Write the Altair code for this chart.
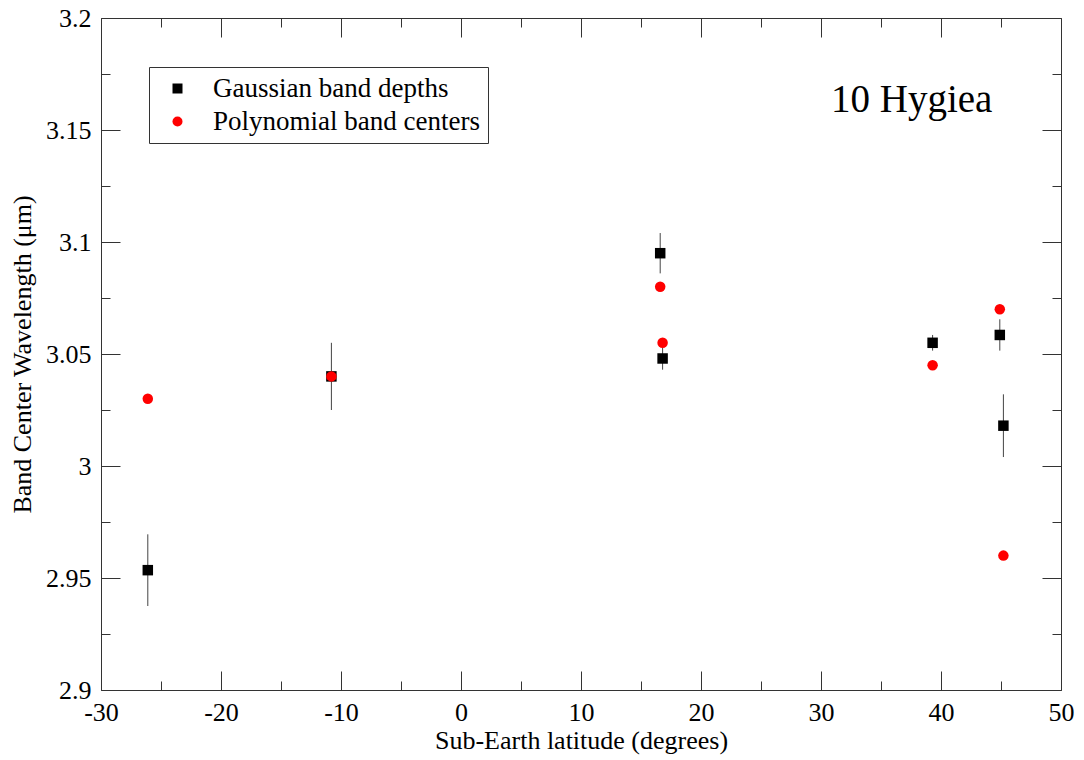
import altair as alt
import pandas as pd

# ---- data ----
SERIES = ["Gaussian band depths", "Polynomial band centers"]

gauss_lat = [-26.1, -10.8, 16.6, 16.8, 39.3, 44.9, 45.2]
gauss_center = [2.9535, 3.040, 3.095, 3.048, 3.055, 3.0585, 3.018]
gauss_err = [0.016, 0.015, 0.009, 0.005, 0.0035, 0.007, 0.014]

poly_lat = [-26.1, -10.8, 16.6, 16.8, 39.3, 44.9, 45.2]
poly_center = [3.030, 3.040, 3.080, 3.055, 3.045, 3.070, 2.960]

X_MAJOR = [-30, -20, -10, 0, 10, 20, 30, 40, 50]
X_MINOR = [-25, -15, -5, 5, 15, 25, 35, 45]
Y_MAJOR = [2.9, 2.95, 3.0, 3.05, 3.1, 3.15, 3.2]
Y_MINOR = [2.925, 2.975, 3.025, 3.075, 3.125, 3.175]

TITLE_TEXT = "10 Hygiea"
X_TITLE = "Sub-Earth latitude (degrees)"
Y_TITLE = "Band Center Wavelength (\u03bcm)"

# ---- tables ----
points = pd.DataFrame({
    "lat": gauss_lat + poly_lat,
    "center": gauss_center + poly_center,
    "series": [SERIES[0]] * len(gauss_lat) + [SERIES[1]] * len(poly_lat),
})
errs = pd.DataFrame({
    "lat": gauss_lat,
    "lo": [c - e for c, e in zip(gauss_center, gauss_err)],
    "hi": [c + e for c, e in zip(gauss_center, gauss_err)],
})

W, H = 960, 672
FONT = "Liberation Serif"
LFONT = "Times New Roman"
AX = "#333333"

xs = alt.Scale(domain=[-30, 50], nice=False, zero=False)
ys = alt.Scale(domain=[2.9, 3.2], nice=False, zero=False)

tick_common = dict(domain=False, grid=False, labels=False, title=None,
                   tickColor=AX, tickWidth=1)

def xtick_axis(orient, values, size):
    return alt.Axis(orient=orient, offset=-H, values=values, tickSize=size, **tick_common)

def ytick_axis(orient, values, size):
    return alt.Axis(orient=orient, offset=-W, values=values, tickSize=size, **tick_common)

x_label_axis = alt.Axis(
    orient="bottom", values=X_MAJOR, ticks=False, tickSize=0, domain=False, grid=False,
    labelExpr="datum.value + ''", labelFont=LFONT, labelFontSize=26, labelColor="black",
    labelPadding=9, labelFlush=False, labelOverlap=False,
    title=X_TITLE, titleFont=FONT, titleFontSize=26,
    titleFontWeight="normal", titleColor="black", titlePadding=2,
)
y_label_axis = alt.Axis(
    orient="left", values=Y_MAJOR, ticks=False, tickSize=0, domain=False, grid=False,
    labelExpr="datum.value + ''", labelFont=LFONT, labelFontSize=26, labelColor="black",
    labelPadding=10, labelFlush=False, labelOverlap=False,
    title=Y_TITLE, titleFont=FONT, titleFontSize=26,
    titleFontWeight="normal", titleColor="black", titlePadding=10,
)

legend = alt.Legend(
    title=None, orient="none", legendX=48, legendY=49, labelFont=LFONT, labelFontSize=27,
    labelColor="black", labelLimit=600, strokeColor=AX, fillColor="white", padding=8,
    symbolOffset=7, labelOffset=22, rowPadding=5, symbolSize=100, symbolStrokeWidth=0,
)

err_layer = alt.Chart(errs).mark_rule(color="#444444", strokeWidth=1).encode(
    x=alt.X("lat:Q", scale=xs, axis=xtick_axis("top", X_MAJOR, 19)),
    y=alt.Y("lo:Q", scale=ys, axis=ytick_axis("right", Y_MAJOR, 19)),
    y2="hi:Q",
)

pts_layer = alt.Chart(points).mark_point(filled=True, opacity=1, size=110, strokeWidth=0).encode(
    x=alt.X("lat:Q", scale=xs, axis=x_label_axis),
    y=alt.Y("center:Q", scale=ys, axis=y_label_axis),
    color=alt.Color("series:N", scale=alt.Scale(domain=SERIES, range=["black", "red"]), legend=legend),
    shape=alt.Shape("series:N", scale=alt.Scale(domain=SERIES, range=["square", "circle"]), legend=legend),
)

ax3 = alt.Chart(points).mark_point(opacity=0).encode(
    x=alt.X("lat:Q", scale=xs, axis=xtick_axis("top", X_MINOR, 9)),
    y=alt.Y("center:Q", scale=ys, axis=ytick_axis("right", Y_MINOR, 9)),
)
ax4 = alt.Chart(points).mark_point(opacity=0).encode(
    x=alt.X("lat:Q", scale=xs, axis=xtick_axis("bottom", X_MAJOR, 19)),
    y=alt.Y("center:Q", scale=ys, axis=ytick_axis("left", Y_MAJOR, 19)),
)
ax5 = alt.Chart(points).mark_point(opacity=0).encode(
    x=alt.X("lat:Q", scale=xs, axis=xtick_axis("bottom", X_MINOR, 9)),
    y=alt.Y("center:Q", scale=ys, axis=ytick_axis("left", Y_MINOR, 9)),
)

title_layer = alt.Chart(pd.DataFrame({"t": [TITLE_TEXT]})).mark_text(
    font=FONT, fontSize=39, align="left", baseline="alphabetic", color="black"
).encode(text="t:N", x=alt.value(730), y=alt.value(94))

chart = alt.layer(err_layer, pts_layer, ax3, ax4, ax5, title_layer).resolve_axis(
    x="independent", y="independent"
).resolve_scale(x="shared", y="shared").properties(
    width=W, height=H, autosize=alt.AutoSizeParams(type="none"),
    padding={"left": 101, "top": 18, "right": 23, "bottom": 70},
    background="white",
).configure_view(stroke=AX, strokeWidth=1)

chart.save("out.html", embed_options={"renderer": "svg", "actions": False})
